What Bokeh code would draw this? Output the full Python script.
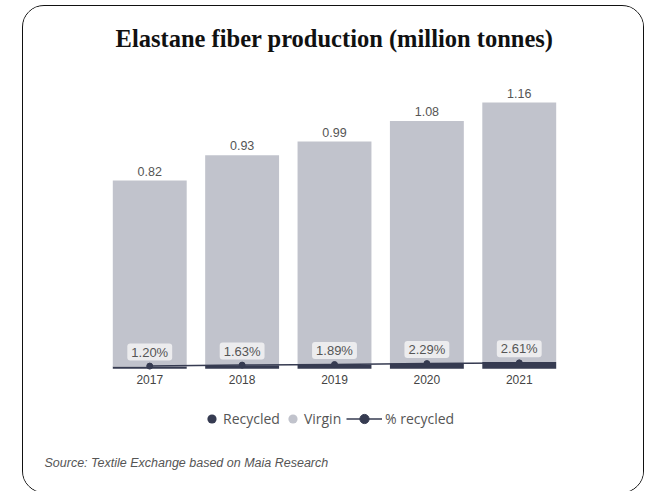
from bokeh.plotting import figure
from bokeh.models import FactorRange, Range1d, Legend, LegendItem, Title, Label, ColumnDataSource
from bokeh.core.properties import value
from bokeh.embed import file_html
from bokeh.resources import INLINE

years = ["2017", "2018", "2019", "2020", "2021"]
total = [0.82, 0.93, 0.99, 1.08, 1.16]
total_labels = ["0.82", "0.93", "0.99", "1.08", "1.16"]
recycled = [0.0098, 0.0152, 0.0187, 0.0247, 0.0303]
virgin = [0.8102, 0.9148, 0.9713, 1.0553, 1.1297]
pct_share = [0.0120, 0.0163, 0.0189, 0.0229, 0.0261]
pct_labels = ["1.20%", "1.63%", "1.89%", "2.29%", "2.61%"]

DARK = "#363b51"
LIGHT = "#c1c3cc"

src = ColumnDataSource(dict(years=years, total=total, total_labels=total_labels,
                            recycled=recycled, virgin=virgin,
                            pct_share=pct_share, pct_labels=pct_labels))

p = figure(x_range=FactorRange(*years, range_padding=0.8667, range_padding_units="absolute"),
           y_range=Range1d(-0.5473, 1.3127),
           width=622, height=488, output_backend="svg", toolbar_location=None,
           min_border_left=0, min_border_right=0, min_border_top=0, min_border_bottom=0)
p.margin = (5, 0, 0, 22)
p.styles = {"border": "1.5px solid #111", "border-radius": "22px", "box-sizing": "border-box",
            "overflow": "hidden"}

p.xaxis.fixed_location = 0
p.xaxis.axis_line_color = None
p.xaxis.major_tick_line_color = None
p.xaxis.minor_tick_line_color = None
p.xaxis.major_tick_out = 0
p.xaxis.major_label_text_font = "Liberation Sans"
p.xaxis.major_label_text_font_size = "12px"
p.xaxis.major_label_text_color = "#444444"
p.xaxis.major_label_standoff = 6
p.yaxis.visible = False
p.grid.visible = False
p.outline_line_color = None

bars = p.vbar_stack(["recycled", "virgin"], x="years", width=0.8, color=[DARK, LIGHT],
                    line_color=None, source=src)

ln = p.line("years", "pct_share", source=src, color=DARK, line_width=1.5)
pts = p.scatter("years", "pct_share", source=src, size=6, color=DARK)

# legend swatches (circle markers as in the reference legend; zero size on the plot)
sw_rec = p.scatter("years", "recycled", source=src, marker="circle", size=0,
                   fill_color=DARK, line_color=None)
sw_vir = p.scatter("years", "virgin", source=src, marker="circle", size=0,
                   fill_color=LIGHT, line_color=None)

p.text("years", "total", text="total_labels", source=src, text_align="center",
       text_baseline="bottom", y_offset=-5, text_font=value("Liberation Sans"),
       text_font_size="12.5px", text_color="#555555")

p.text("years", "pct_share", text="pct_labels", source=src, text_align="center",
       text_baseline="middle", y_offset=-14, text_font=value("Liberation Sans"),
       text_font_size="13px", text_color="#555555", background_fill_color="#ececee",
       padding=(4, 1), border_radius=3)

leg1 = Legend(items=[LegendItem(label="Recycled", renderers=[sw_rec], index=0),
                     LegendItem(label="Virgin", renderers=[sw_vir], index=0)],
              orientation="horizontal", location=(177, 64), glyph_width=23, glyph_height=23,
              label_standoff=0, spacing=1, padding=0, margin=0, border_line_color=None,
              background_fill_alpha=0, label_text_font="Open Sans",
              label_text_font_size="14px", label_text_color="#555555")
leg2 = Legend(items=[LegendItem(label="% recycled", renderers=[ln, pts])],
              orientation="horizontal", location=(323, 64), glyph_width=36, glyph_height=23,
              label_standoff=3, padding=0, margin=0, border_line_color=None,
              background_fill_alpha=0, label_text_font="Open Sans",
              label_text_font_size="14px", label_text_color="#555555")
p.add_layout(leg1, "center")
p.add_layout(leg2, "center")

p.title = Title(text="Elastane fiber production (million tonnes)", align="center",
                text_font="Liberation Serif", text_font_size="24.5px", text_font_style="bold",
                text_color="#111111", standoff=32)
src_note = Label(x=21, y=32, x_units="screen", y_units="screen",
                 text="Source: Textile Exchange based on Maia Research",
                 text_font="Liberation Sans", text_font_size="12.5px",
                 text_font_style="italic", text_color="#555555", text_baseline="middle")
p.add_layout(src_note)

open("out.html", "w").write(file_html(p, INLINE))
